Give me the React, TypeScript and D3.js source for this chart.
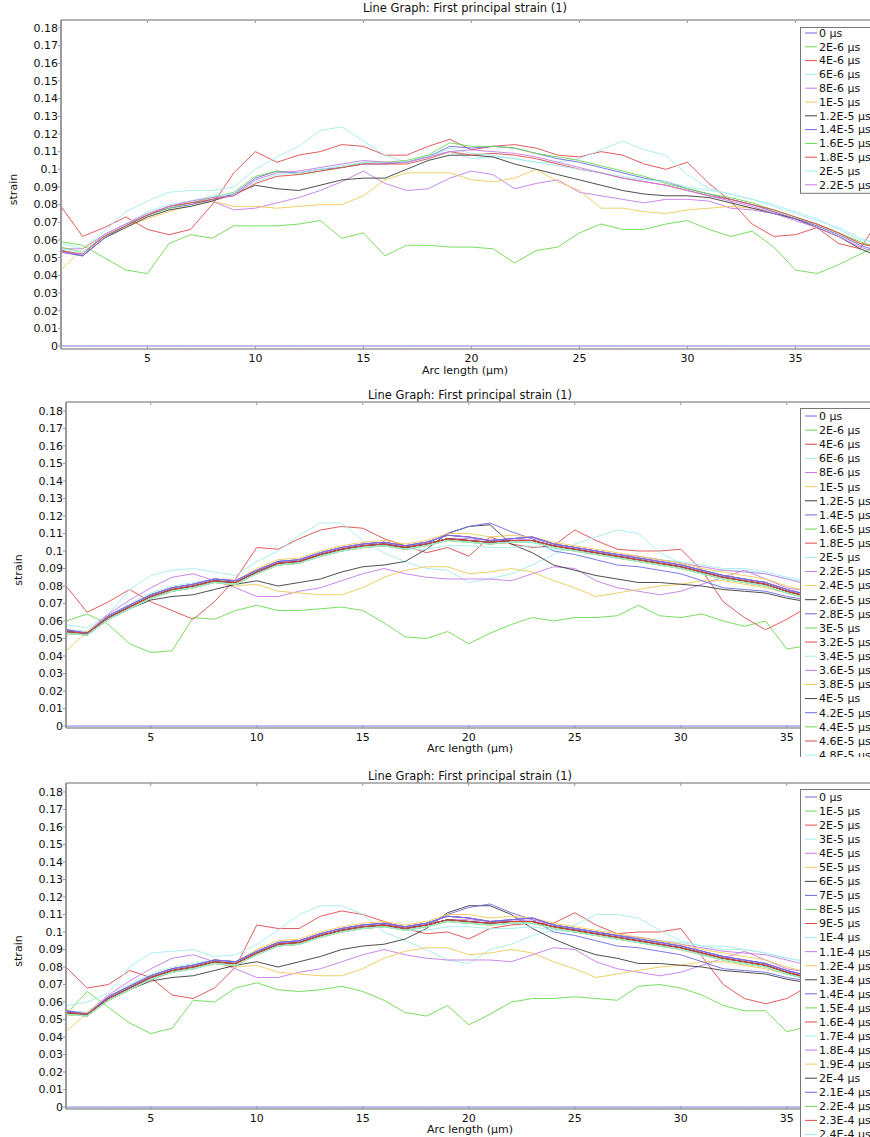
import React from 'react';
import * as d3 from 'd3';

// arc length sample positions (µm)
const arcLength = [1, 2, 3, 4, 5, 6, 7, 8, 9, 10, 11, 12, 13, 14, 15, 16, 17, 18, 19, 20,
  21, 22, 23, 24, 25, 26, 27, 28, 29, 30, 31, 32, 33, 34, 35, 36, 37, 38, 39];
const strainTicks = [0, 0.01, 0.02, 0.03, 0.04, 0.05, 0.06, 0.07, 0.08, 0.09, 0.1,
  0.11, 0.12, 0.13, 0.14, 0.15, 0.16, 0.17, 0.18];
const arcTicks = [5, 10, 15, 20, 25, 30, 35];

const zeroStrain = [0, 0, 0, 0, 0, 0, 0, 0, 0, 0, 0, 0, 0, 0, 0, 0, 0, 0, 0, 0,
  0, 0, 0, 0, 0, 0, 0, 0, 0, 0, 0, 0, 0, 0, 0, 0, 0, 0, 0];

// ---- panel 1 (0 .. 2.2E-5 µs)
const p1Labels = ['0 µs', '2E-6 µs', '4E-6 µs', '6E-6 µs', '8E-6 µs', '1E-5 µs',
  '1.2E-5 µs', '1.4E-5 µs', '1.6E-5 µs', '1.8E-5 µs', '2E-5 µs', '2.2E-5 µs'];
const p1Green = [0.059, 0.057, 0.050, 0.043, 0.041, 0.058, 0.063, 0.061, 0.068, 0.068,
  0.068, 0.069, 0.071, 0.061, 0.064, 0.051, 0.057, 0.057, 0.056, 0.056,
  0.055, 0.047, 0.054, 0.056, 0.064, 0.069, 0.066, 0.066, 0.069, 0.071,
  0.066, 0.062, 0.065, 0.056, 0.043, 0.041, 0.046, 0.052, 0.058];
const p1Red = [0.079, 0.062, 0.067, 0.073, 0.066, 0.063, 0.066, 0.080, 0.098, 0.110,
  0.104, 0.108, 0.110, 0.114, 0.113, 0.108, 0.108, 0.113, 0.117, 0.111,
  0.113, 0.114, 0.112, 0.108, 0.107, 0.110, 0.108, 0.103, 0.100, 0.104,
  0.092, 0.082, 0.069, 0.062, 0.063, 0.067, 0.058, 0.055, 0.074];
const p1Cyan = [0.058, 0.055, 0.065, 0.076, 0.082, 0.087, 0.088, 0.088, 0.090, 0.100,
  0.107, 0.113, 0.122, 0.124, 0.116, 0.108, 0.104, 0.108, 0.110, 0.106,
  0.107, 0.106, 0.104, 0.104, 0.106, 0.111, 0.116, 0.111, 0.108, 0.097,
  0.089, 0.086, 0.083, 0.080, 0.076, 0.072, 0.066, 0.060, 0.059];
const p1Purple = [0.055, 0.055, 0.063, 0.069, 0.074, 0.079, 0.081, 0.082, 0.077, 0.078,
  0.081, 0.084, 0.088, 0.093, 0.099, 0.092, 0.088, 0.089, 0.095, 0.099,
  0.097, 0.089, 0.092, 0.094, 0.087, 0.085, 0.083, 0.081, 0.083, 0.083,
  0.082, 0.078, 0.077, 0.075, 0.072, 0.069, 0.064, 0.058, 0.056];
const p1Yellow = [0.043, 0.055, 0.062, 0.068, 0.072, 0.076, 0.080, 0.082, 0.079, 0.079,
  0.078, 0.079, 0.080, 0.080, 0.085, 0.094, 0.098, 0.098, 0.098, 0.094,
  0.093, 0.095, 0.100, 0.093, 0.088, 0.078, 0.078, 0.076, 0.075, 0.077,
  0.078, 0.079, 0.078, 0.076, 0.072, 0.068, 0.064, 0.058, 0.055];
const p1Black = [0.054, 0.051, 0.061, 0.067, 0.073, 0.077, 0.079, 0.082, 0.086, 0.091,
  0.089, 0.088, 0.091, 0.094, 0.095, 0.095, 0.100, 0.105, 0.108, 0.108,
  0.107, 0.103, 0.100, 0.097, 0.094, 0.091, 0.088, 0.086, 0.085, 0.085,
  0.084, 0.081, 0.078, 0.075, 0.072, 0.067, 0.062, 0.055, 0.050];
const p1Blue2 = [0.053, 0.051, 0.061, 0.068, 0.074, 0.078, 0.080, 0.083, 0.086, 0.095,
  0.099, 0.098, 0.100, 0.101, 0.103, 0.103, 0.104, 0.107, 0.113, 0.112,
  0.113, 0.112, 0.109, 0.106, 0.104, 0.101, 0.098, 0.095, 0.093, 0.089,
  0.086, 0.083, 0.080, 0.076, 0.072, 0.068, 0.063, 0.057, 0.053];
const p1Green2 = [0.056, 0.053, 0.062, 0.068, 0.074, 0.078, 0.081, 0.084, 0.087, 0.096,
  0.099, 0.097, 0.099, 0.101, 0.104, 0.104, 0.105, 0.108, 0.115, 0.113,
  0.113, 0.112, 0.109, 0.107, 0.105, 0.102, 0.099, 0.096, 0.092, 0.089,
  0.086, 0.084, 0.081, 0.077, 0.073, 0.069, 0.064, 0.059, 0.055];
const p1Red2 = [0.054, 0.052, 0.062, 0.068, 0.074, 0.079, 0.081, 0.083, 0.085, 0.092,
  0.096, 0.097, 0.099, 0.101, 0.103, 0.103, 0.103, 0.106, 0.110, 0.108,
  0.109, 0.108, 0.106, 0.103, 0.100, 0.098, 0.095, 0.093, 0.091, 0.088,
  0.085, 0.083, 0.080, 0.077, 0.073, 0.069, 0.064, 0.058, 0.055];
const p1Cyan2 = [0.055, 0.053, 0.063, 0.069, 0.076, 0.080, 0.082, 0.085, 0.086, 0.093,
  0.097, 0.098, 0.100, 0.102, 0.104, 0.104, 0.104, 0.107, 0.112, 0.109,
  0.108, 0.106, 0.104, 0.102, 0.100, 0.098, 0.096, 0.094, 0.093, 0.090,
  0.088, 0.086, 0.083, 0.079, 0.075, 0.071, 0.067, 0.061, 0.057];
const p1Purple2 = [0.053, 0.052, 0.063, 0.069, 0.075, 0.079, 0.082, 0.084, 0.085, 0.094,
  0.098, 0.099, 0.101, 0.103, 0.105, 0.104, 0.104, 0.107, 0.110, 0.111,
  0.110, 0.109, 0.107, 0.104, 0.101, 0.098, 0.095, 0.093, 0.091, 0.088,
  0.085, 0.082, 0.079, 0.075, 0.071, 0.067, 0.062, 0.056, 0.052];

// ---- panel 2 (0 .. 4.8E-5 µs)
const p2Labels = ['0 µs', '2E-6 µs', '4E-6 µs', '6E-6 µs', '8E-6 µs', '1E-5 µs',
  '1.2E-5 µs', '1.4E-5 µs', '1.6E-5 µs', '1.8E-5 µs', '2E-5 µs', '2.2E-5 µs',
  '2.4E-5 µs', '2.6E-5 µs', '2.8E-5 µs', '3E-5 µs', '3.2E-5 µs', '3.4E-5 µs',
  '3.6E-5 µs', '3.8E-5 µs', '4E-5 µs', '4.2E-5 µs', '4.4E-5 µs', '4.6E-5 µs', '4.8E-5 µs'];
const p2Green = [0.060, 0.064, 0.058, 0.047, 0.042, 0.043, 0.062, 0.061, 0.066, 0.069,
  0.066, 0.066, 0.067, 0.068, 0.066, 0.059, 0.051, 0.050, 0.054, 0.047,
  0.053, 0.058, 0.062, 0.060, 0.062, 0.062, 0.063, 0.069, 0.063, 0.062,
  0.064, 0.060, 0.057, 0.060, 0.044, 0.046, 0.050, 0.052, 0.054];
const p2Red = [0.080, 0.065, 0.071, 0.078, 0.071, 0.066, 0.061, 0.071, 0.084, 0.102,
  0.101, 0.107, 0.112, 0.114, 0.113, 0.107, 0.103, 0.099, 0.102, 0.097,
  0.108, 0.104, 0.102, 0.103, 0.112, 0.106, 0.101, 0.100, 0.100, 0.101,
  0.089, 0.071, 0.062, 0.055, 0.061, 0.068, 0.070, 0.072, 0.073];
const p2Cyan = [0.058, 0.056, 0.064, 0.078, 0.086, 0.089, 0.090, 0.088, 0.086, 0.094,
  0.100, 0.109, 0.116, 0.116, 0.106, 0.099, 0.094, 0.090, 0.089, 0.082,
  0.084, 0.087, 0.092, 0.098, 0.104, 0.108, 0.112, 0.110, 0.099, 0.093,
  0.087, 0.089, 0.089, 0.087, 0.084, 0.082, 0.081, 0.080, 0.079];
const p2Purple = [0.055, 0.054, 0.064, 0.072, 0.079, 0.085, 0.087, 0.083, 0.079, 0.074,
  0.074, 0.077, 0.079, 0.083, 0.087, 0.090, 0.087, 0.085, 0.084, 0.084,
  0.084, 0.083, 0.087, 0.091, 0.090, 0.083, 0.079, 0.077, 0.075, 0.077,
  0.081, 0.085, 0.089, 0.084, 0.079, 0.077, 0.076, 0.075, 0.074];
const p2Yellow = [0.043, 0.054, 0.062, 0.068, 0.073, 0.077, 0.080, 0.082, 0.080, 0.081,
  0.077, 0.076, 0.075, 0.075, 0.079, 0.085, 0.089, 0.091, 0.091, 0.087,
  0.088, 0.090, 0.088, 0.083, 0.079, 0.074, 0.076, 0.078, 0.080, 0.081,
  0.083, 0.083, 0.081, 0.079, 0.076, 0.074, 0.073, 0.072, 0.071];
const p2Black = [0.054, 0.052, 0.061, 0.067, 0.072, 0.074, 0.075, 0.078, 0.081, 0.083,
  0.080, 0.082, 0.084, 0.088, 0.091, 0.092, 0.094, 0.101, 0.110, 0.114,
  0.115, 0.104, 0.099, 0.092, 0.089, 0.086, 0.084, 0.082, 0.082, 0.081,
  0.080, 0.078, 0.077, 0.076, 0.073, 0.071, 0.070, 0.069, 0.069];
const p2BlueHigh = [0.053, 0.052, 0.061, 0.067, 0.073, 0.077, 0.079, 0.082, 0.082, 0.088,
  0.092, 0.093, 0.097, 0.100, 0.102, 0.103, 0.102, 0.104, 0.110, 0.114,
  0.116, 0.111, 0.107, 0.100, 0.098, 0.095, 0.092, 0.091, 0.089, 0.087,
  0.083, 0.079, 0.078, 0.077, 0.074, 0.072, 0.071, 0.070, 0.069];
const p2CyanUpper = [0.055, 0.054, 0.063, 0.070, 0.076, 0.080, 0.082, 0.084, 0.083, 0.089,
  0.094, 0.095, 0.098, 0.101, 0.103, 0.103, 0.101, 0.101, 0.103, 0.103,
  0.102, 0.102, 0.103, 0.101, 0.100, 0.099, 0.098, 0.097, 0.095, 0.094,
  0.092, 0.090, 0.090, 0.088, 0.085, 0.083, 0.082, 0.081, 0.080];
const p2PurpleUpper = [0.054, 0.053, 0.063, 0.069, 0.075, 0.079, 0.081, 0.084, 0.083, 0.089,
  0.093, 0.095, 0.098, 0.101, 0.103, 0.104, 0.103, 0.104, 0.107, 0.107,
  0.106, 0.106, 0.107, 0.104, 0.102, 0.100, 0.098, 0.097, 0.095, 0.093,
  0.091, 0.089, 0.088, 0.087, 0.084, 0.081, 0.079, 0.078, 0.077];
const p2YellowUpper = [0.052, 0.054, 0.063, 0.069, 0.075, 0.079, 0.081, 0.084, 0.083, 0.090,
  0.095, 0.096, 0.100, 0.103, 0.105, 0.106, 0.104, 0.106, 0.110, 0.110,
  0.108, 0.109, 0.108, 0.105, 0.103, 0.101, 0.099, 0.097, 0.095, 0.093,
  0.090, 0.088, 0.086, 0.084, 0.080, 0.077, 0.075, 0.074, 0.073];
const clusterA = [0.054, 0.053, 0.062, 0.068, 0.074, 0.078, 0.080, 0.083, 0.082, 0.088,
  0.093, 0.094, 0.098, 0.101, 0.103, 0.104, 0.102, 0.104, 0.107, 0.106,
  0.105, 0.106, 0.106, 0.103, 0.101, 0.099, 0.097, 0.095, 0.093, 0.091,
  0.088, 0.085, 0.083, 0.081, 0.077, 0.074, 0.073, 0.072, 0.071];
const clusterB = [0.055, 0.053, 0.063, 0.069, 0.075, 0.079, 0.081, 0.084, 0.083, 0.089,
  0.094, 0.095, 0.099, 0.102, 0.104, 0.105, 0.103, 0.105, 0.109, 0.108,
  0.106, 0.107, 0.108, 0.104, 0.102, 0.100, 0.098, 0.096, 0.094, 0.092,
  0.089, 0.086, 0.084, 0.082, 0.078, 0.075, 0.074, 0.073, 0.072];
const clusterC = [0.053, 0.052, 0.061, 0.067, 0.073, 0.077, 0.079, 0.082, 0.081, 0.087,
  0.092, 0.093, 0.097, 0.100, 0.102, 0.103, 0.101, 0.103, 0.106, 0.105,
  0.104, 0.105, 0.105, 0.102, 0.100, 0.098, 0.096, 0.094, 0.092, 0.090,
  0.087, 0.084, 0.082, 0.080, 0.076, 0.073, 0.072, 0.071, 0.070];

// ---- panel 3 (0 .. 2.4E-4 µs)
const p3Labels = ['0 µs', '1E-5 µs', '2E-5 µs', '3E-5 µs', '4E-5 µs', '5E-5 µs',
  '6E-5 µs', '7E-5 µs', '8E-5 µs', '9E-5 µs', '1E-4 µs', '1.1E-4 µs', '1.2E-4 µs',
  '1.3E-4 µs', '1.4E-4 µs', '1.5E-4 µs', '1.6E-4 µs', '1.7E-4 µs', '1.8E-4 µs',
  '1.9E-4 µs', '2E-4 µs', '2.1E-4 µs', '2.2E-4 µs', '2.3E-4 µs', '2.4E-4 µs'];
const p3Green = [0.053, 0.066, 0.057, 0.048, 0.042, 0.045, 0.061, 0.060, 0.068, 0.071,
  0.067, 0.066, 0.067, 0.069, 0.066, 0.061, 0.054, 0.052, 0.058, 0.047,
  0.053, 0.060, 0.062, 0.062, 0.063, 0.062, 0.061, 0.069, 0.070, 0.068,
  0.064, 0.058, 0.055, 0.055, 0.043, 0.046, 0.049, 0.052, 0.054];
const p3Red = [0.080, 0.068, 0.070, 0.078, 0.074, 0.064, 0.062, 0.068, 0.080, 0.104,
  0.102, 0.102, 0.109, 0.112, 0.110, 0.106, 0.102, 0.099, 0.100, 0.096,
  0.102, 0.104, 0.105, 0.105, 0.111, 0.104, 0.099, 0.100, 0.100, 0.102,
  0.086, 0.070, 0.062, 0.059, 0.062, 0.069, 0.071, 0.072, 0.073];
const p3Cyan = [0.058, 0.060, 0.065, 0.080, 0.088, 0.089, 0.090, 0.086, 0.087, 0.093,
  0.101, 0.110, 0.115, 0.115, 0.110, 0.100, 0.095, 0.090, 0.084, 0.082,
  0.090, 0.093, 0.098, 0.101, 0.104, 0.110, 0.110, 0.108, 0.101, 0.095,
  0.092, 0.092, 0.090, 0.088, 0.085, 0.083, 0.081, 0.080, 0.079];
const p3Black = [0.054, 0.052, 0.061, 0.067, 0.072, 0.074, 0.075, 0.078, 0.081, 0.083,
  0.080, 0.083, 0.086, 0.090, 0.092, 0.093, 0.096, 0.102, 0.111, 0.115,
  0.115, 0.110, 0.102, 0.096, 0.091, 0.087, 0.085, 0.082, 0.082, 0.081,
  0.080, 0.078, 0.077, 0.076, 0.073, 0.071, 0.070, 0.069, 0.068];

const p1Series = [zeroStrain, p1Green, p1Red, p1Cyan, p1Purple, p1Yellow, p1Black,
  p1Blue2, p1Green2, p1Red2, p1Cyan2, p1Purple2];
const p2Series = [zeroStrain, p2Green, p2Red, p2Cyan, p2Purple, p2Yellow, p2Black,
  p2BlueHigh, clusterA, clusterB, p2CyanUpper, p2PurpleUpper, p2YellowUpper,
  clusterA, clusterB, clusterC, clusterA, clusterC, clusterB, clusterC, clusterA,
  clusterB, clusterC, clusterA, clusterC];
const p3Series = [zeroStrain, p3Green, p3Red, p3Cyan, p2Purple, p2Yellow, p3Black,
  p2BlueHigh, clusterA, clusterB, p2CyanUpper, p2PurpleUpper, p2YellowUpper,
  clusterA, clusterB, clusterC, clusterA, clusterC, clusterB, clusterC, clusterA,
  clusterB, clusterC, clusterA, clusterC];

// comsol-ish colour cycle
const palette = ['#6a6ae6', '#6bd94f', '#df4a4a', '#a4ecec', '#c57be6', '#efca5a', '#3c3c3c'];

const FONT = '"DejaVu Sans", Verdana, sans-serif';
const W = 870;

const panels = [
  { left: 61, top: 20, bottom: 349, yMin: -0.0017, yMax: 0.1845, ppu: 21.6, cx: 465,
    titleY: 12, xLabelY: 374, tickY: 362, legTop: 27, legFirst: 33, legStep: 13.8,
    clipTop: 0, clipBottom: 378, labels: p1Labels, series: p1Series },
  { left: 66, top: 402, bottom: 728, yMin: -0.0011, yMax: 0.1851, ppu: 21.2, cx: 470,
    titleY: 399, xLabelY: 752, tickY: 741, legTop: 408, legFirst: 416, legStep: 14.13,
    clipTop: 380, clipBottom: 757, labels: p2Labels, series: p2Series },
  { left: 66, top: 783, bottom: 1109, yMin: -0.0011, yMax: 0.1851, ppu: 21.2, cx: 470,
    titleY: 780, xLabelY: 1133, tickY: 1122, legTop: 789, legFirst: 797, legStep: 14.06,
    clipTop: 760, clipBottom: 1137, labels: p3Labels, series: p3Series },
];

function Panel({ p, idx }: { p: typeof panels[number]; idx: number }) {
  const x = d3.scaleLinear().domain([1, 39]).range([p.left, p.left + 38 * p.ppu]);
  const y = d3.scaleLinear().domain([p.yMin, p.yMax]).range([p.bottom, p.top]);
  const line = d3.line<number>()
    .x((_, i) => x(arcLength[i]))
    .y(d => y(d));
  const plotClip = `plot-clip-${idx}`;
  const panelClip = `panel-clip-${idx}`;
  const n = p.labels.length;
  const legH = (p.legFirst - p.legTop) + (n - 1) * p.legStep + 8;
  const frame = '#9a9a9a';

  return (
    <g fontFamily={FONT} fontSize={11} fill="#111">
      <defs>
        <clipPath id={plotClip}>
          <rect x={p.left} y={p.top} width={W - p.left} height={p.bottom - p.top} />
        </clipPath>
        <clipPath id={panelClip}>
          <rect x={0} y={p.clipTop} width={W} height={p.clipBottom - p.clipTop} />
        </clipPath>
      </defs>

      <text x={p.cx} y={p.titleY} textAnchor="middle" fontSize={11.5}>
        Line Graph: First principal strain (1)
      </text>

      {/* data lines */}
      <g clipPath={`url(#${plotClip})`}>
        {p.series.map((s, i) => (
          <path key={i} d={line(s) ?? ''} fill="none"
            stroke={palette[i % palette.length]} strokeWidth={1} strokeOpacity={0.9} />
        ))}
      </g>

      {/* frame */}
      <line x1={p.left} x2={W} y1={p.top} y2={p.top} stroke={frame} strokeWidth={1.5} />
      <line x1={p.left} x2={W} y1={p.bottom} y2={p.bottom} stroke={frame} strokeWidth={1.5} />
      <line x1={p.left} x2={p.left} y1={p.top} y2={p.bottom} stroke={frame} strokeWidth={2} />

      {/* y axis */}
      {strainTicks.map(t => (
        <g key={t}>
          <line x1={p.left - 3} x2={p.left} y1={y(t)} y2={y(t)} stroke={frame} />
          <text x={p.left - 3} y={y(t)} dy="0.35em" textAnchor="end">{String(t)}</text>
        </g>
      ))}
      <text transform={`translate(${p.left - 44},${(p.top + p.bottom) / 2 + 5}) rotate(-90)`}
        textAnchor="middle">strain</text>

      {/* x axis */}
      {arcTicks.map(t => (
        <g key={t}>
          <line x1={x(t)} x2={x(t)} y1={p.bottom} y2={p.bottom - 3} stroke={frame} />
          <line x1={x(t)} x2={x(t)} y1={p.top} y2={p.top + 3} stroke={frame} />
          <text x={x(t)} y={p.tickY} textAnchor="middle">{t}</text>
        </g>
      ))}
      <text x={p.cx} y={p.xLabelY} textAnchor="middle">Arc length (µm)</text>

      {/* legend */}
      <g clipPath={`url(#${panelClip})`}>
        <rect x={800.5} y={p.legTop + 0.5} width={120} height={legH} fill="#fff" stroke="#777" />
        {p.labels.map((lab, i) => {
          const ly = p.legFirst + i * p.legStep;
          return (
            <g key={lab}>
              <line x1={805} x2={817} y1={ly} y2={ly} stroke={palette[i % palette.length]} />
              <text x={819} y={ly} dy="0.35em">{lab}</text>
            </g>
          );
        })}
      </g>
    </g>
  );
}

export default function App() {
  return (
    <svg width={W} height={1137} style={{ position: 'absolute', left: 0, top: 0, background: '#fff' }}>
      <rect width={W} height={1137} fill="#fff" />
      {panels.map((p, i) => <Panel key={i} p={p} idx={i} />)}
    </svg>
  );
}
